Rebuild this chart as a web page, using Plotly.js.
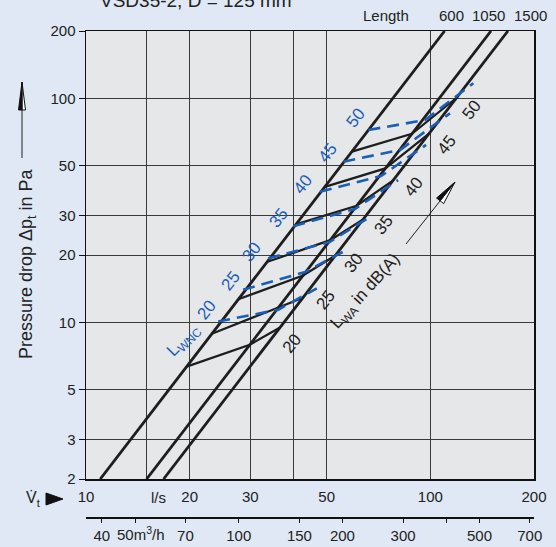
<!DOCTYPE html>
<html>
<head>
<meta charset="utf-8">
<script src="https://cdn.plot.ly/plotly-3.0.1.min.js"></script>
<style>html,body{margin:0;padding:0;background:#dfe8f4;}#chart{width:556px;height:547px;}</style>
</head>
<body>
<div id="chart"></div>
<script>
// ---- data ----
var lengthLabels = ['600', '1050', '1500'];
var lineFlowLow  = [11.0, 15.0, 16.8];   // l/s at 2 Pa
var lineFlowHigh = [110, 150, 168];      // l/s at 200 Pa
var lineDropLow  = 2;
var lineDropHigh = 200;

var lwaLevels = [20, 25, 30, 35, 40, 45, 50];
var lwaFlowA  = [19.6, 23.2, 27.7, 33.5, 40.7, 49.4, 59.2];
var lwaDropA  = [6.35, 8.90, 12.7, 18.6, 27.4, 40.3, 57.9];
var lwaFlowB  = [29.9, 36.2, 42.7, 51.2, 61.1, 74.0, 88.4];
var lwaDropB  = [7.95, 11.65, 16.2, 23.3, 33.2, 48.7, 69.5];
var lwaFlowC  = [36.6, 42.7, 53.0, 63.8, 78.0, 99.1, 119.2];
var lwaDropC  = [9.49, 12.9, 19.9, 28.8, 43.1, 69.6, 100.7];

var wncLevels    = [20, 25, 30, 35, 40, 45, 50];
var wncFlowStart = [24.2, 28.6, 33.8, 40.0, 47.8, 55.9, 66.1];
var wncDropStart = [10.1, 14.0, 19.3, 26.9, 38.3, 52.2, 72.3];
var wncFlowMid   = [36.2, 43.3, 51.1, 60.4, 71.9, 81.7, 96.5];
var wncDropMid   = [11.4, 16.8, 22.9, 32.1, 45.0, 58.9, 80.1];
var wncFlowEnd   = [46.8, 57.2, 66.8, 80.6, 97.2, 114, 133.3];
var wncDropEnd   = [14.2, 21.1, 29.6, 43.2, 62.0, 85.8, 116.8];

var flowTicks   = [10, 15, 20, 30, 40, 50, 100, 200];
var flowLabels  = ['10', '', '20', '30', '', '50', '100', '200'];
var m3hTicks    = [40, 50, 70, 100, 150, 200, 300, 400, 500, 700];
var m3hLabels   = ['40', '', '70', '100', '150', '200', '300', '', '500', '700'];
var m3hUnitLabel = '50m<sup>3</sup>/h';
var dropTicks   = [2, 3, 5, 10, 20, 30, 50, 100, 200];

// ---- layout helpers ----
var ML = 86, MR = 22, MT = 31, MB = 20, W = 556, H = 547;
var PW = W - ML - MR, PH = H - MT - MB;
function px(x) { return (x - ML) / PW; }
function py(y) { return (H - MB - y) / PH; }
var plotBottom = 479;

var BLUE = '#1b5eb6';
var BLACK = '#1e1e1e';
var FONT = 'Liberation Sans, Arial, sans-serif';

var traces = [];
for (var i = 0; i < lengthLabels.length; i++) {
  traces.push({
    x: [lineFlowLow[i], lineFlowHigh[i]], y: [lineDropLow, lineDropHigh],
    mode: 'lines', line: {color: BLACK, width: 2.8},
    hoverinfo: 'skip', showlegend: false
  });
}
for (var j = 0; j < lwaLevels.length; j++) {
  traces.push({
    x: [lwaFlowA[j], lwaFlowB[j], lwaFlowC[j]],
    y: [lwaDropA[j], lwaDropB[j], lwaDropC[j]],
    mode: 'lines', line: {color: BLACK, width: 2.2},
    hoverinfo: 'skip', showlegend: false
  });
}
for (var k = 0; k < wncLevels.length; k++) {
  traces.push({
    x: [wncFlowStart[k], wncFlowMid[k], wncFlowEnd[k]],
    y: [wncDropStart[k], wncDropMid[k], wncDropEnd[k]],
    mode: 'lines', line: {color: BLUE, width: 2.6, dash: '12px,7px'},
    hoverinfo: 'skip', showlegend: false
  });
}
// carrier for the m3/h axis
traces.push({x: [m3hTicks[0], m3hTicks[m3hTicks.length - 1]], y: [lineDropLow, lineDropLow],
  xaxis: 'x2', yaxis: 'y', mode: 'markers', marker: {opacity: 0}, hoverinfo: 'skip', showlegend: false});

// ---- annotations ----
var ann = [];
function txt(t, x, y, opts) {
  var a = {text: t, x: px(x), y: py(y), xref: 'paper', yref: 'paper', showarrow: false,
    xanchor: 'center', yanchor: 'middle', font: {family: FONT, size: 15, color: '#222'}};
  for (var key in (opts || {})) a[key] = opts[key];
  return a;
}
ann.push(txt('VSD35-2, D = 125 mm', 196, 1, {font: {family: FONT, size: 19, color: '#222'}}));
ann.push(txt('Length', 386, 16));
var lenX = [451, 488, 530];
for (var i2 = 0; i2 < lengthLabels.length; i2++) ann.push(txt(lengthLabels[i2], lenX[i2], 16));
ann.push(txt('Pressure drop Δp<sub>t</sub> in Pa', 27, 264, {textangle: -90, font: {family: FONT, size: 18, color: '#222'}}));
ann.push(txt('l/s', 158, 497));
ann.push(txt('V̇<sub>t</sub>', 33, 499, {font: {family: FONT, size: 16, color: '#222'}}));
ann.push(txt(m3hUnitLabel, 141, 533));

var lwaLabelPos = [[291.7, 343], [325, 300], [353, 263], [383, 225], [413, 187], [446, 145], [471, 110]];
for (var m = 0; m < lwaLevels.length; m++) {
  ann.push(txt(String(lwaLevels[m]), lwaLabelPos[m][0], lwaLabelPos[m][1], {textangle: -52, font: {family: FONT, size: 17, color: '#222'}}));
}
var wncLabelPos = [[206, 310], [230, 281], [251, 252], [278, 218], [303, 185], [327, 153], [355, 118]];
for (var n = 0; n < wncLevels.length; n++) {
  ann.push(txt(String(wncLevels[n]), wncLabelPos[n][0], wncLabelPos[n][1], {textangle: -52, font: {family: FONT, size: 17, color: BLUE}}));
}
ann.push(txt('L<sub>WNC</sub>', 184, 341, {textangle: -45, font: {family: FONT, size: 17, color: BLUE}}));
ann.push(txt('L<sub>WA</sub> in dB(A)', 366, 292, {textangle: -48, font: {family: FONT, size: 17, color: '#222'}}));

// ---- shapes (arrows) ----
function pth(pts) {
  var s = '';
  for (var q = 0; q < pts.length; q++) s += (q === 0 ? 'M ' : ' L ') + px(pts[q][0]) + ' ' + py(pts[q][1]);
  return s + ' Z';
}
function arrowShapes(tail, tip, len, half) {
  var dx = tip[0] - tail[0], dy = tip[1] - tail[1];
  var L = Math.sqrt(dx * dx + dy * dy); dx /= L; dy /= L;
  var bc = [tip[0] - len * dx, tip[1] - len * dy];
  var nx = -dy, ny = dx;
  var b1 = [bc[0] + half * nx, bc[1] + half * ny];
  var b2 = [bc[0] - half * nx, bc[1] - half * ny];
  return [
    {type: 'line', xref: 'paper', yref: 'paper', x0: px(tail[0]), y0: py(tail[1]), x1: px(bc[0]), y1: py(bc[1]), line: {color: '#222', width: 1}},
    {type: 'path', xref: 'paper', yref: 'paper', path: pth([tip, b1, bc]), fillcolor: '#ffffff', line: {color: '#111', width: 1}},
    {type: 'path', xref: 'paper', yref: 'paper', path: pth([tip, b2, bc]), fillcolor: '#111', line: {color: '#111', width: 1}}
  ];
}
var shapes = [];
shapes = shapes.concat(arrowShapes([22, 158], [22, 82], 28, 3.5));
shapes = shapes.concat(arrowShapes([406, 244], [455, 182], 24, 4.5));
// V-dot arrow (filled triangle)
shapes.push({type: 'path', xref: 'paper', yref: 'paper', path: pth([[46, 493], [63, 499], [46, 505]]), fillcolor: '#111', line: {color: '#111', width: 1}});

var layout = {
  width: W, height: H,
  margin: {l: ML, r: MR, t: MT, b: MB},
  paper_bgcolor: '#dfe8f4', plot_bgcolor: '#e6e7e9',
  font: {family: FONT, size: 15, color: '#222'},
  showlegend: false,
  xaxis: {
    type: 'log', range: [1, Math.log10(200)], tickmode: 'array', tickvals: flowTicks, ticktext: flowLabels,
    tickangle: 0,
    showgrid: true, gridcolor: '#3a3a3a', gridwidth: 1, showline: true, linecolor: '#111', linewidth: 1.5,
    mirror: true, ticks: '', ticklabelstandoff: 3, tickfont: {family: FONT, size: 15, color: '#222'}, anchor: 'y', zeroline: false
  },
  xaxis2: {
    type: 'log', range: [Math.log10(36), Math.log10(720)], tickmode: 'array', tickvals: m3hTicks, ticktext: m3hLabels,
    tickangle: 0,
    overlaying: 'x', anchor: 'free', position: py(517), side: 'bottom',
    showgrid: false, showline: true, linecolor: '#111', linewidth: 1.5, ticks: 'outside', ticklen: 4, tickcolor: '#111',
    tickfont: {family: FONT, size: 15, color: '#222'}, zeroline: false
  },
  yaxis: {
    type: 'log', range: [Math.log10(2), Math.log10(200)], domain: [py(plotBottom), 1],
    tickmode: 'array', tickvals: dropTicks, ticktext: dropTicks.map(String),
    showgrid: true, gridcolor: '#3a3a3a', gridwidth: 1, showline: true, linecolor: '#111', linewidth: 1.5,
    mirror: true, ticks: 'outside', ticklen: 6, tickcolor: '#111',
    tickfont: {family: FONT, size: 15, color: '#222'}, zeroline: false
  },
  annotations: ann,
  shapes: shapes
};

Plotly.newPlot('chart', traces, layout, {displayModeBar: false, staticPlot: true});
</script>
</body>
</html>
